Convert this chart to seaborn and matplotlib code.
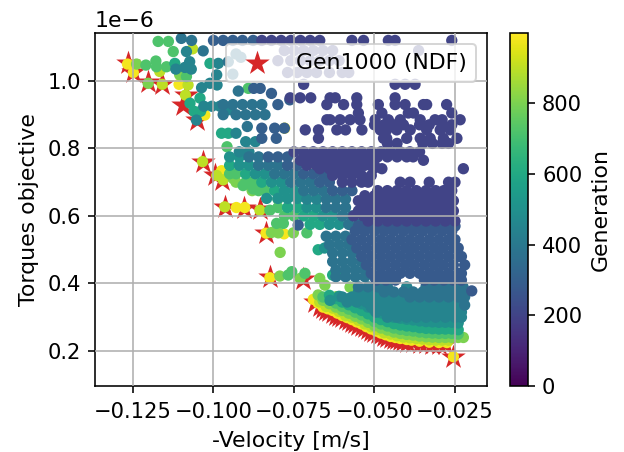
import matplotlib
matplotlib.use('Agg')
import matplotlib.pyplot as plt
import pandas as pd
import seaborn as sns

# velocity in mm/s, torque in 1e-6 units
# each row is (torque, [velocities])
g200 = [
    (1.12, [-85, -82, -79, -76, -73, -70, -67, -57, -53.4, -45.7, -43.6, -26]),
    (1.09, [-78, -75, -72, -69, -66, -63, -36.3]),
    (1.06, [-80, -76, -73, -70, -67, -64, -61]),
    (1.025, [-77, -74, -71, -68, -64, -60, -58]),
    (0.99, [-72, -43.6, -40.5, -37.4]),
    (0.95, [-76.2, -73.1, -69.8, -63.8, -62.2, -55.5, -43.6]),
    (0.93, [-64.8, -59.6, -55.5, -48.8, -43.6, -40.5, -34.8, -33.8, -27.6]),
    (0.905, [-55, -47.7, -39.5, -37.9, -26]),
    (0.885, [-64.8, -63.8, -60.7, -57.6, -54.5, -49.8, -45.7, -42, -35.8, -31.2, -29, -23.4]),
    (0.87, [-50, -47, -44, -41, -36, -33, -29, -26]),
    (0.855, [-71.5, -67.4, -61.7, -59, -53.9, -48.2, -46.2, -43.1, -38.9, -33.8, -29.6, -26.5]),
    (0.83, [-67.4, -47.2, -46.2, -40, -35.8, -32.7, -28.6, -24.4]),
    (0.815, [-46, -43, -35, -32, -29, -27]),
    (0.79, [-75, -72, -69, -66, -63, -60, -57, -54, -51, -48, -45, -42, -39, -36]),
    (0.775, [-70, -67, -64, -61, -58, -55, -52, -49, -46, -43, -40, -38]),
    (0.765, [-73, -70, -67, -64, -61, -58, -55, -52, -34.8]),
    (0.75, [-71, -68, -65, -62, -59, -56, -53, -50]),
    (0.74, [-67, -64, -61, -58, -55, -50.3, -47.7, -22.4]),
    (0.72, [-63, -60, -57, -54, -51]),
    (0.70, [-60, -57, -54, -52, -42, -39, -33, -27, -25]),
    (0.675, [-49, -46, -43, -40, -37, -34, -31, -28.5, -26]),
    (0.66, [-53, -50, -47, -44, -41, -38, -35, -32, -29, -26.5]),
    (0.645, [-55, -52, -49, -46, -43, -40, -37, -34, -31, -28, -25.5]),
    (0.63, [-53.5, -50.5, -47.5, -44.5, -41.5, -38.5, -35.5, -32.5, -29.5, -26.5]),
    (0.615, [-55, -52, -49, -46, -43, -40, -37, -34, -31, -28, -25.5]),
    (0.60, [-56.5, -53.5, -50.5, -47.5, -44.5, -41.5, -38.5, -35.5, -32.5, -29.5, -26.5]),
    (0.585, [-52, -49, -46, -43, -40, -37, -34, -31, -28, -25]),
]
g280 = [
    (0.57, [-55, -52, -49, -46, -43, -40, -37, -34, -31, -28, -25]),
    (0.555, [-56, -53, -50, -47, -44, -41, -38, -35, -32, -29, -26]),
    (0.53, [-57, -54, -51, -48, -45, -42, -39, -36, -33, -30, -27, -25]),
    (0.505, [-55.5, -52.5, -49.5, -46.5, -43.5, -40.5, -37.5, -34.5, -31.5, -28.5, -25.5, -24]),
    (0.48, [-54, -51, -48, -45, -42, -39, -36, -33, -30, -27, -24, -23]),
    (0.455, [-52.5, -49.5, -46.5, -43.5, -40.5, -37.5, -34.5, -31.5, -28.5, -25.5, -22]),
    (0.43, [-51, -48, -45, -42, -39, -36, -33, -30, -27, -24, -23]),
    (0.41, [-49.5, -46.5, -43.5, -34.5, -31.5, -28.5, -25.5, -23]),
    (0.378, [-19.8]),
]
g300 = [
    (1.12, [-100, -97, -94, -91, -87.7]),
    (0.978, [-87.5, -85.5]),
    (0.963, [-82]),
    (0.944, [-76.3]),
    (0.93, [-80]),
    (0.86, [-85, -81, -78]),
    (0.83, [-85, -80.5]),
    (0.775, [-83, -80, -77]),
    (0.75, [-77, -74]),
    (0.725, [-72, -69, -66]),
    (0.70, [-67, -64]),
    (0.675, [-63, -60, -57]),
    (0.573, [-73.7]),
]
g380 = [
    (1.126, [-110]),
    (1.12, [-106.8]),
    (1.089, [-103.2]),
    (1.07, [-91.5]),
    (1.08, [-93]),
    (1.057, [-95.4]),
    (1.02, [-94]),
    (0.97, [-92.3]),
    (0.93, [-97, -94, -91, -88, -85]),
    (0.90, [-97, -93, -90, -87, -84]),
    (0.865, [-89.5]),
    (0.775, [-89, -86]),
    (0.75, [-86, -83, -80]),
    (0.725, [-81, -78, -75]),
    (0.70, [-76, -73, -70]),
    (0.675, [-72, -69, -66]),
    (0.65, [-65, -62, -59]),
    (0.625, [-65, -62, -59]),
    (0.60, [-60, -57]),
    (0.575, [-58, -55]),
    (0.54, [-65, -62, -59]),
    (0.515, [-64, -61, -58]),
    (0.49, [-63, -60, -57]),
    (0.465, [-63, -60, -57, -54]),
    (0.44, [-62, -59, -56, -53]),
    (0.42, [-62, -59, -56, -53, -50, -47, -44]),
    (0.39, [-55, -52, -49, -46, -34, -31, -28, -25, -22.5]),
    (0.375, [-47, -44, -41, -38, -35, -32, -29, -26, -23]),
    (0.36, [-39, -36, -33, -30, -27, -24, -22]),
    (0.336, [-22]),
]
g450 = [
    (1.035, [-111.7, -106.9]),
    (1.057, [-107.4]),
    (1.04, [-108.9]),
    (1.087, [-108.4]),
    (1.052, [-98.5]),
    (1.018, [-99]),
    (0.993, [-101.1]),
    (0.98, [-103.7]),
    (0.988, [-98.9]),
    (0.925, [-103, -100.5, -98]),
    (0.884, [-105.3]),
    (0.915, [-95]),
    (0.845, [-93]),
    (0.82, [-90, -87]),
    (0.79, [-92, -89]),
    (0.71, [-65]),
    (0.65, [-71, -68]),
    (0.39, [-40]),
    (0.375, [-55, -52, -49]),
    (0.36, [-60, -57, -54, -51, -48, -45, -42]),
    (0.345, [-58.5, -55.5, -52.5, -49.5, -46.5, -43.5, -40.5, -37.5, -34.5, -31.5, -28.5, -25.5, -23]),
    (0.33, [-51, -48, -45, -42, -39, -36, -33, -30, -27, -24]),
    (0.315, [-49.5, -46.5, -43.5, -40.5, -37.5, -34.5, -31.5, -28.5, -25.5, -23]),
    (0.30, [-46, -43, -40, -37, -34, -31, -28, -25, -23]),
]
g500 = [
    (0.775, [-95, -92]),
    (0.75, [-92, -89]),
    (0.725, [-87, -84]),
    (0.70, [-82, -79]),
    (0.675, [-78, -75]),
    (0.652, [-83.5, -80, -77, -74]),
    (0.625, [-71, -68]),
    (0.60, [-66, -63]),
    (0.575, [-64, -61]),
    (0.505, [-65.5]),
    (0.35, [-63.8]), (0.362, [-61]), (0.355, [-58]), (0.348, [-56]), (0.34, [-54]),
    (0.33, [-52]), (0.32, [-50]), (0.313, [-48]), (0.307, [-46]), (0.30, [-44]),
    (0.297, [-42]), (0.294, [-40]), (0.292, [-38]), (0.289, [-36]), (0.287, [-34]),
    (0.286, [-32]), (0.285, [-30, -28, -26]), (0.283, [-24]),
]
g600 = [
    (0.50, [-67.5]),
    (0.425, [-63, -61.5]),
    (1.052, [-101.1, -112]),
    (0.934, [-107.3]),
    (0.949, [-104.2]),
    (0.91, [-106, -104]),
    (0.845, [-95.4, -97.5]),
    (0.75, [-95]),
    (0.725, [-90]),
    (0.70, [-85]),
    (0.675, [-81]),
    (0.625, [-77, -74]),
    (0.60, [-72, -69]),
    (0.575, [-70, -67]),
    (0.365, [-64]), (0.355, [-62]), (0.345, [-60]), (0.337, [-58]), (0.328, [-56]),
    (0.32, [-54]), (0.31, [-52]), (0.30, [-50]), (0.293, [-48]), (0.287, [-46]),
    (0.281, [-44]), (0.277, [-42]), (0.274, [-40]), (0.272, [-38]), (0.269, [-36]),
    (0.267, [-34]), (0.266, [-32]), (0.265, [-30, -28, -26]), (0.263, [-24]),
]
g720 = [
    (1.047, [-121]), (1.059, [-117.9]), (1.042, [-117.7, -114.6]),
    (1.117, [-117.2, -114]), (1.087, [-112.5]), (1.013, [-108.4]),
    (0.978, [-89.2]), (0.805, [-95.8]), (0.425, [-76.8]), (0.435, [-75.7]),
    (0.43, [-71.6]), (0.55, [-71]), (0.725, [-95, -93]), (0.70, [-90, -88]),
    (0.675, [-86, -84]), (0.69, [-90.8]), (0.68, [-87.7]), (0.65, [-80]),
    (0.625, [-80]), (0.60, [-78, -75]), (0.617, [-82.5]), (0.578, [-80.4, -78.3]),
    (0.36, [-66]), (0.352, [-64]), (0.342, [-62]), (0.332, [-60]), (0.324, [-58]),
    (0.315, [-56]), (0.307, [-54]), (0.297, [-52]), (0.287, [-50]), (0.28, [-48]),
    (0.274, [-46]), (0.268, [-44]), (0.264, [-42]), (0.261, [-40]), (0.259, [-38]),
    (0.256, [-36]), (0.254, [-34]), (0.253, [-32]), (0.252, [-30, -28, -26]), (0.25, [-24]),
]
g800 = [
    (1.05, [-123.9]), (0.711, [-93.9]), (1.018, [-110.5]), (0.551, [-82]),
    (0.55, [-79.9, -75.2]), (0.492, [-79.3]), (0.422, [-79.4]), (0.415, [-73.1, -67]),
    (0.395, [-65.4]), (0.361, [-61.8]), (0.389, [-57.6]), (0.993, [-120.3]),
    (0.675, [-88]), (0.70, [-93]),
    (0.366, [-67.5]), (0.35, [-66]), (0.34, [-64]), (0.33, [-62]), (0.32, [-60]),
    (0.312, [-58]), (0.303, [-56]), (0.295, [-54]), (0.285, [-52]), (0.275, [-50]),
    (0.268, [-48]), (0.262, [-46]), (0.256, [-44]), (0.252, [-42]), (0.249, [-40]),
    (0.247, [-38]), (0.244, [-36]), (0.242, [-34]), (0.241, [-32]),
    (0.24, [-30, -28, -26, -24, -22.4]),
]
g900 = [
    (0.99, [-115.9]), (0.988, [-107.9]), (0.958, [-108.7]), (0.761, [-103.4]),
    (0.72, [-99]), (0.707, [-97]), (0.627, [-96.5]), (0.617, [-85.6]),
    (1.028, [-116.7]), (1.095, [-106.5]),
    (0.345, [-67]), (0.332, [-65]), (0.327, [-63]), (0.317, [-61]), (0.305, [-59]),
    (0.30, [-57]), (0.291, [-55]), (0.28, [-53]), (0.272, [-51]), (0.263, [-49]),
    (0.254, [-47]), (0.25, [-45]), (0.245, [-43]), (0.241, [-41]), (0.239, [-39]),
    (0.237, [-37]), (0.235, [-35]), (0.233, [-33]), (0.232, [-31, -29, -27]),
]
g980 = [
    (1.05, [-126.7]), (1.025, [-124.9]), (0.734, [-97.5]), (0.625, [-92.9, -90.3]),
    (0.549, [-83.7]), (0.547, [-78.1]), (0.417, [-82.5]), (0.899, [-102.7]),
    (0.99, [-110.7]), (0.183, [-25.5]), (0.86, [-77.9]), (0.758, [-69.5]),
    (0.353, [-69]), (0.342, [-67.5]), (0.33, [-66]), (0.325, [-64.5]), (0.32, [-63]),
    (0.312, [-61.5]), (0.305, [-60]), (0.299, [-58.5]), (0.293, [-57]), (0.286, [-55.5]),
    (0.28, [-54]), (0.272, [-52.5]), (0.265, [-51]), (0.259, [-49.5]), (0.253, [-48]),
    (0.248, [-46.5]), (0.243, [-45]), (0.24, [-43.5]), (0.237, [-42]), (0.234, [-40]),
    (0.232, [-38.5]), (0.229, [-36]), (0.226, [-33]), (0.225, [-30, -27.5]),
]
# drawn from the last generation back to the first, early ones end up on top
generations = [980, 900, 800, 720, 600, 500, 450, 380, 300, 280, 200]
bands = [g980, g900, g800, g720, g600, g500, g450, g380, g300, g280, g200]

# non dominated front of the last generation
ndf_velocity = [-126.6, -125, -120.3, -116, -108.5, -109.5, -105.1, -103.3, -99.5, -97.4,
                -96.4, -90.5, -85.6, -83.7, -82.5, -72.2, -68.5, -67, -66, -65, -64, -63,
                -62, -61, -60, -59, -58, -57, -56, -55, -54, -53, -52, -51, -50, -49, -48,
                -47, -46, -45, -44, -43, -42, -41, -40, -38, -36, -34, -32,
                -30, -28, -25.6]
ndf_torque = [1.053, 1.027, 0.997, 0.991, 0.959, 0.929, 0.884, 0.76, 0.722, 0.707,
              0.627, 0.624, 0.621, 0.55, 0.419, 0.413, 0.345, 0.333, 0.326, 0.322, 0.318, 0.313,
              0.307, 0.303, 0.30, 0.296, 0.292, 0.287, 0.282, 0.278, 0.275, 0.27, 0.265, 0.26, 0.255,
              0.252, 0.249, 0.245, 0.242, 0.239, 0.237, 0.235, 0.233, 0.23, 0.228, 0.226,
              0.225, 0.223, 0.222, 0.221, 0.221, 0.182]

rows = []
for gen, band in zip(generations, bands):
    for torque, velocities in band:
        for v in velocities:
            rows.append((v / 1000, torque * 1e-6, gen))
df = pd.DataFrame(rows, columns=['velocity', 'torque', 'generation'])

fig = plt.figure(figsize=(624 / 144, 452 / 144), dpi=144)
ax = fig.add_axes([95 / 624, 1 - 386 / 452, 392 / 624, 353 / 452])
cax = fig.add_axes([510 / 624, 1 - 386 / 452, 18 / 624, 353 / 452])

sns.scatterplot(x=[v / 1000 for v in ndf_velocity], y=[t * 1e-6 for t in ndf_torque],
                marker='*', s=165, color='tab:red', linewidth=0, label='Gen1000 (NDF)',
                ax=ax, zorder=1)
sns.scatterplot(data=df, x='velocity', y='torque', hue='generation', palette='viridis',
                hue_norm=(0, 999), s=32, linewidth=0, ax=ax, zorder=1.5)

ax.set_xlim(-0.1368, -0.01506)
ax.set_ylim(0.0963e-6, 1.142e-6)
ax.set_xticks([-0.125, -0.100, -0.075, -0.050, -0.025])
ax.set_xlabel('-Velocity [m/s]', fontsize=11, labelpad=4.5)
ax.set_ylabel('Torques objective', fontsize=11)
ax.tick_params(labelsize=10.5)
ax.tick_params(axis='x', pad=4.5)
ax.yaxis.get_offset_text().set_fontsize(11)
ax.grid(True)
ax.set_axisbelow(False)

handles, labels = ax.get_legend_handles_labels()
ax.legend(handles[:1], labels[:1], loc='upper right', fontsize=11)

sm = plt.cm.ScalarMappable(cmap='viridis', norm=plt.Normalize(0, 999))
cbar = fig.colorbar(sm, cax=cax)
cbar.set_ticks([0, 200, 400, 600, 800])
cbar.ax.tick_params(labelsize=10.5)
cbar.set_label('Generation', fontsize=11)

fig.savefig('out.png', dpi=144)
